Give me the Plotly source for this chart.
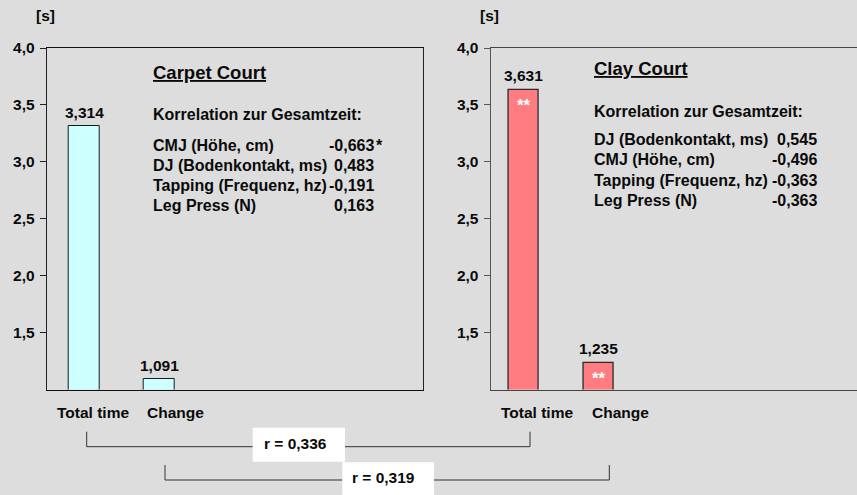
import plotly.graph_objects as go

# ---- data ----
categories = ["Total time", "Change"]
carpet_times = [3.314, 1.091]
clay_times = [3.631, 1.235]
clay_sig = ["**", "**"]

carpet_factors = ["CMJ (Höhe, cm)", "DJ (Bodenkontakt, ms)",
                  "Tapping (Frequenz, hz)", "Leg Press (N)"]
carpet_r = [-0.663, 0.483, -0.191, 0.163]
carpet_r_sig = ["*", "", "", ""]

clay_factors = ["DJ (Bodenkontakt, ms)", "CMJ (Höhe, cm)",
                "Tapping (Frequenz, hz)", "Leg Press (N)"]
clay_r = [0.545, -0.496, -0.363, -0.363]

between_r = [0.336, 0.319]  # total time vs. total time, change vs. change

y_ticks = [1.5, 2.0, 2.5, 3.0, 3.5, 4.0]

# ---- layout helpers ----
W, H = 857, 495
BG = "#DDDDDD"
FONT = "Liberation Sans, Arial, sans-serif"
CYAN = "#CCFFFF"
RED = "#FF7C80"
INK = "#0a0a0a"


def px(x):
    return x / W


def py(y):
    return 1 - y / H


def de(v):
    return f"{v:.3f}".replace(".", ",")


fig = go.Figure()

xpos = list(range(len(categories)))
fig.add_trace(go.Bar(x=xpos, y=carpet_times, width=0.405,
                     marker=dict(color=CYAN, line=dict(color="#1a1a1a", width=1)),
                     xaxis="x", yaxis="y", hoverinfo="skip"))
fig.add_trace(go.Bar(x=xpos, y=clay_times, width=0.405,
                     marker=dict(color=RED, line=dict(color="#2a2a2a", width=1.3)),
                     xaxis="x2", yaxis="y2", hoverinfo="skip"))

ydom = [py(389.5), py(48)]
yax = dict(range=[1, 4], tickvals=y_ticks, tickformat=".1f", ticks="outside",
           ticklen=6, showgrid=False, zeroline=False, showline=True,
           automargin=False,
           tickfont=dict(family=FONT, size=15.5, color=INK, weight="bold"),
           ticklabelstandoff=2)

fig.update_layout(
    width=W, height=H, margin=dict(l=0, r=0, t=0, b=0, autoexpand=False),
    paper_bgcolor=BG, plot_bgcolor=BG, showlegend=False,
    separators=",.", bargap=0,
    xaxis=dict(domain=[px(46.7), px(423.3)], range=[-0.5, 4.52],
               showticklabels=False, ticks="", showgrid=False, zeroline=False,
               automargin=False,
               showline=True, mirror=True, linecolor="#111", linewidth=1),
    yaxis=dict(domain=ydom, anchor="x", mirror=True, linecolor="#222",
               tickcolor="#222", linewidth=1, **yax),
    xaxis2=dict(domain=[px(490.7), 1], range=[-0.441, 4.443],
                showticklabels=False, ticks="", showgrid=False, zeroline=False,
                automargin=False,
                showline=True, mirror=True, linecolor="#444", linewidth=1.3,
                anchor="y2"),
    yaxis2=dict(domain=ydom, anchor="x2", linecolor="#555", tickcolor="#555",
                linewidth=1.3, **yax),
)

ann = []


def text(x, y, s, size=15.5, xanchor="center", color=INK, **kw):
    ann.append(dict(x=x, y=y, text=s, showarrow=False, xanchor=xanchor,
                    yanchor="middle",
                    font=dict(family=FONT, size=size, color=color, weight="bold"),
                    **kw))


# unit labels
text(px(45.5), py(15.5), "[s]", xref="paper", yref="paper")
text(px(489.7), py(16), "[s]", xref="paper", yref="paper")

# bar value labels
for i, v in enumerate(carpet_times):
    ann.append(dict(x=xpos[i], y=v, xref="x", yref="y", text=de(v),
                    showarrow=False, yanchor="middle", yshift=14,
                    font=dict(family=FONT, size=15.5, color=INK, weight="bold")))
for i, v in enumerate(clay_times):
    ann.append(dict(x=xpos[i], y=v, xref="x2", yref="y2", text=de(v),
                    showarrow=False, yanchor="middle", yshift=14,
                    font=dict(family=FONT, size=15.5, color=INK, weight="bold")))
    ann.append(dict(x=xpos[i], y=v, xref="x2", yref="y2", text=clay_sig[i],
                    showarrow=False, yanchor="middle", yshift=-16,
                    font=dict(family=FONT, size=17, color="white", weight="bold")))

# category labels under each panel
for cx, s in zip([93.3, 175.5], categories):
    text(px(cx), py(412.7), s, xref="paper", yref="paper")
for cx, s in zip([537.2, 620], categories):
    text(px(cx), py(412.7), s, xref="paper", yref="paper")

# panel titles and correlation tables
text(px(150.5), py(72), "<u>Carpet Court</u>", size=18.5, xanchor="left",
     xref="paper", yref="paper")
text(px(150.5), py(115), "Korrelation zur Gesamtzeit:", size=16, xanchor="left",
     xref="paper", yref="paper")
for k, (f, r, s) in enumerate(zip(carpet_factors, carpet_r, carpet_r_sig)):
    yy = 145 + 20.2 * k
    text(px(150.5), py(yy), f, size=16, xanchor="left", xref="paper", yref="paper")
    text(px(375.5), py(yy), de(r), size=16, xanchor="right", xref="paper", yref="paper")
    if s:
        text(px(373.5), py(yy), s, size=16, xanchor="left", xref="paper", yref="paper")

text(px(592.3), py(68.5), "<u>Clay Court</u>", size=18.5, xanchor="left",
     xref="paper", yref="paper")
text(px(592.3), py(111), "Korrelation zur Gesamtzeit:", size=16, xanchor="left",
     xref="paper", yref="paper")
for k, (f, r) in enumerate(zip(clay_factors, clay_r)):
    yy = 139.2 + 20.5 * k
    text(px(592.3), py(yy), f, size=16, xanchor="left", xref="paper", yref="paper")
    text(px(818.5), py(yy), de(r), size=16, xanchor="right", xref="paper", yref="paper")

# brackets linking the two courts, with white label boxes
shapes = []
line = dict(color="#333", width=1)
for (x0, x1, ytop, ybot) in [(86.7, 530, 431.7, 446.7), (165, 609.3, 465, 480)]:
    path = (f"M {px(x0)},{py(ytop)} L {px(x0)},{py(ybot)} "
            f"L {px(x1)},{py(ybot)} L {px(x1)},{py(ytop)}")
    shapes.append(dict(type="path", xref="paper", yref="paper", path=path,
                       line=line))
for (x0, y0, x1, y1) in [(252.7, 427.7, 345, 461.7), (342.3, 462.3, 434, 497)]:
    shapes.append(dict(type="rect", xref="paper", yref="paper",
                       x0=px(x0), x1=px(x1), y0=py(y1), y1=py(y0),
                       fillcolor="white", line=dict(width=0), layer="above"))

text(px(295), py(443.3), f"r = {de(between_r[0])}", xref="paper", yref="paper")
text(px(383.3), py(477.7), f"r = {de(between_r[1])}", xref="paper", yref="paper")

fig.update_layout(annotations=ann, shapes=shapes)
fig.write_html("out.html")
